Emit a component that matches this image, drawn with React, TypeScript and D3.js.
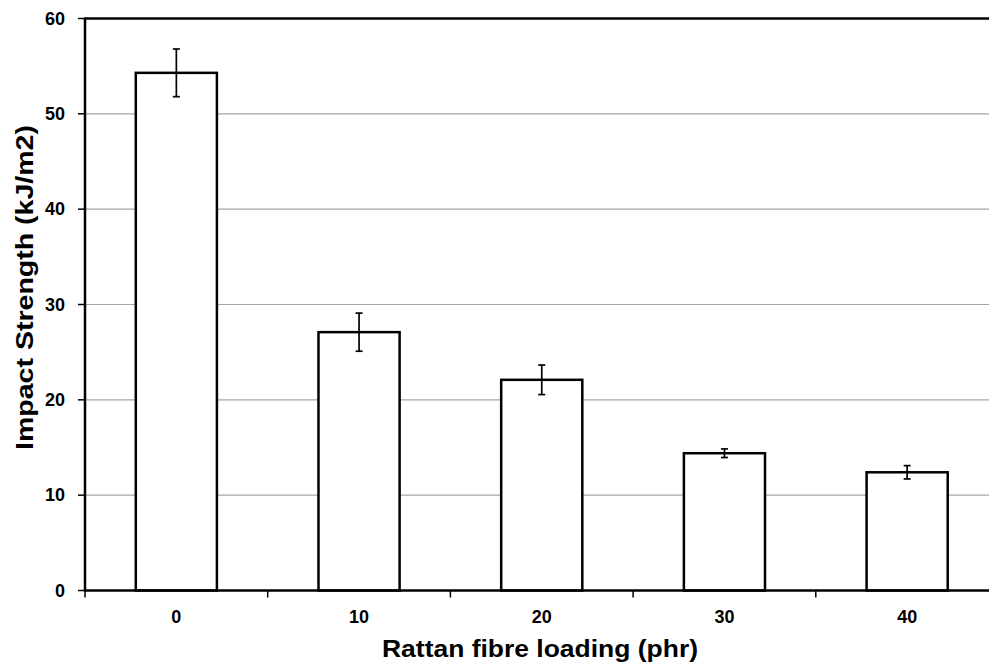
import React from "react";
import * as d3 from "d3";

const categories = ["0", "10", "20", "30", "40"];
const values = [54.3, 27.1, 22.1, 14.4, 12.4];
const errors = [2.5, 2.0, 1.55, 0.45, 0.7];
const yTicks = [0, 10, 20, 30, 40, 50, 60];

const W = 989;
const H = 663;
const left = 85;
const right = 998.5;
const top = 18.5;
const bottom = 590.5;

export default function App() {
  const x = d3
    .scaleBand<string>()
    .domain(categories)
    .range([left, right])
    .paddingInner(0.556)
    .paddingOuter(0.278);
  const y = d3.scaleLinear().domain([0, 60]).range([bottom, top]);
  const step = x.step();
  const font = "'Liberation Sans', Arial, sans-serif";
  const boundaries = d3.range(categories.length + 1).map((i) => left + i * step);

  return (
    <svg
      width={W}
      height={H}
      style={{ position: "absolute", left: 0, top: 0, background: "#fff" }}
      fontFamily={font}
    >
      <rect x={0} y={0} width={W} height={H} fill="#fff" />
      {/* gridlines */}
      {yTicks
        .filter((t) => t > 0 && t < 60)
        .map((t) => (
          <line key={t} x1={left} x2={right} y1={y(t)} y2={y(t)} stroke="#a6a6a6" strokeWidth={1.2} />
        ))}
      {/* top border */}
      <line x1={left} x2={right} y1={y(60)} y2={y(60)} stroke="#000" strokeWidth={2.5} />
      {/* bars */}
      {categories.map((c, i) => (
        <rect
          key={c}
          x={x(c)}
          y={y(values[i])}
          width={x.bandwidth()}
          height={y(0) - y(values[i])}
          fill="#fff"
          stroke="#000"
          strokeWidth={2.5}
        />
      ))}
      {/* error bars */}
      {categories.map((c, i) => {
        const cx = (x(c) as number) + x.bandwidth() / 2;
        const hi = y(values[i] + errors[i]);
        const lo = y(values[i] - errors[i]);
        return (
          <g key={c} stroke="#000" strokeWidth={1.7}>
            <line x1={cx} x2={cx} y1={hi} y2={lo} />
            <line x1={cx - 3.5} x2={cx + 3.5} y1={hi} y2={hi} />
            <line x1={cx - 3.5} x2={cx + 3.5} y1={lo} y2={lo} />
          </g>
        );
      })}
      {/* y axis */}
      <line x1={left} x2={left} y1={top - 1} y2={bottom + 1} stroke="#000" strokeWidth={2.5} />
      {yTicks.map((t) => (
        <g key={t}>
          <line x1={left - 7} x2={left} y1={y(t)} y2={y(t)} stroke="#000" strokeWidth={1.5} />
          <text
            x={left - 20}
            y={y(t)}
            dy="0.35em"
            textAnchor="end"
            fontSize={18}
            fontWeight="bold"
            fill="#000"
          >
            {t}
          </text>
        </g>
      ))}
      {/* x axis */}
      <line x1={left - 1} x2={right} y1={bottom} y2={bottom} stroke="#000" strokeWidth={2.5} />
      {boundaries.map((b, i) => (
        <line key={i} x1={b} x2={b} y1={bottom} y2={bottom + 7} stroke="#000" strokeWidth={1.5} />
      ))}
      {categories.map((c) => (
        <text
          key={c}
          x={(x(c) as number) + x.bandwidth() / 2}
          y={623}
          textAnchor="middle"
          fontSize={18}
          fontWeight="bold"
          fill="#000"
        >
          {c}
        </text>
      ))}
      {/* axis titles */}
      <text
        x={540}
        y={657}
        textAnchor="middle"
        fontSize={23}
        fontWeight="bold"
        fill="#000"
        textLength={316}
        lengthAdjust="spacingAndGlyphs"
      >
        Rattan fibre loading (phr)
      </text>
      <text
        transform={`translate(33,287.5) rotate(-90)`}
        textAnchor="middle"
        fontSize={24.5}
        fontWeight="bold"
        fill="#000"
        textLength={325}
        lengthAdjust="spacingAndGlyphs"
      >
        Impact Strength (kJ/m2)
      </text>
    </svg>
  );
}
